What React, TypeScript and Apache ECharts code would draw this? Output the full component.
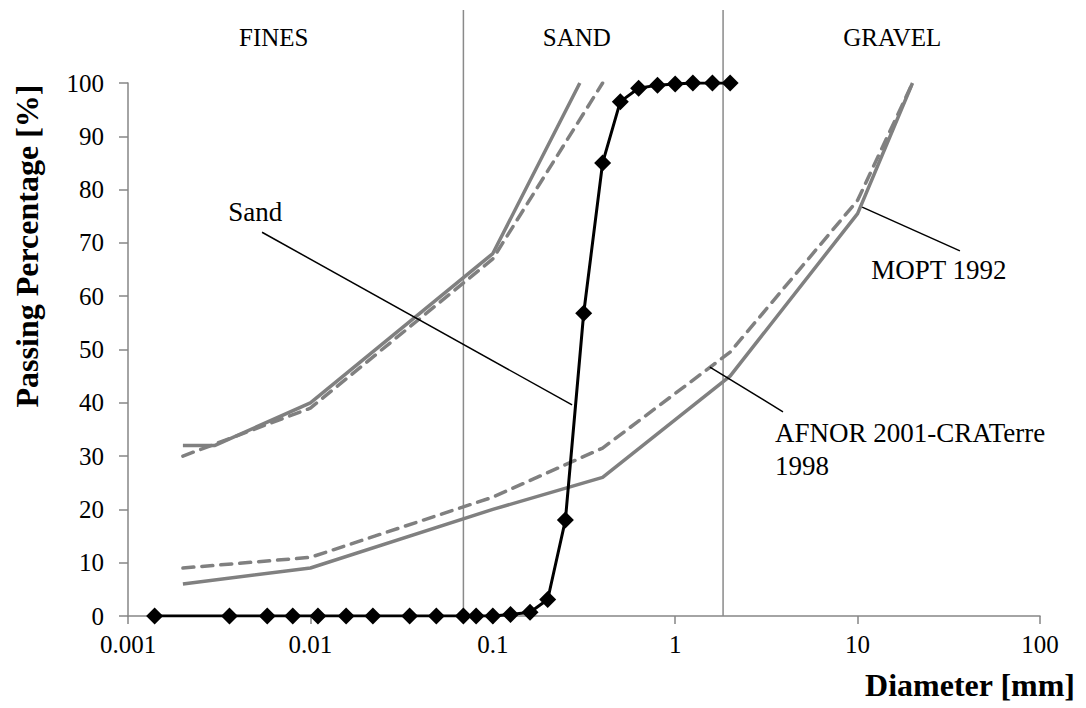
import React, { useEffect, useRef } from "react";
import * as echarts from "echarts";

// ---- data ----
const sandDiameter = [0.0014, 0.0036, 0.0058, 0.008, 0.011, 0.0157, 0.022, 0.035, 0.049, 0.069, 0.081, 0.1, 0.125, 0.16, 0.2, 0.25, 0.315, 0.4, 0.5, 0.63, 0.8, 1, 1.25, 1.6, 2];
const sandPassing = [0, 0, 0, 0, 0, 0, 0, 0, 0, 0, 0, 0, 0.3, 0.7, 3.1, 18, 56.8, 85, 96.5, 99, 99.6, 99.8, 100, 100, 100];

const moptUpperDiameter = [0.002, 0.003, 0.01, 0.1, 0.3];
const moptUpperPassing = [32, 32, 40, 68, 100];
const moptLowerDiameter = [0.002, 0.01, 0.1, 0.4, 2, 10, 20];
const moptLowerPassing = [6, 9, 20, 26, 45, 75.5, 100];

const afnorUpperDiameter = [0.002, 0.01, 0.1, 0.4];
const afnorUpperPassing = [30, 39, 67, 100];
const afnorLowerDiameter = [0.002, 0.01, 0.1, 0.4, 2, 10, 20];
const afnorLowerPassing = [9, 11, 22.3, 31.5, 49.5, 78, 100];

const yTicks = [0, 10, 20, 30, 40, 50, 60, 70, 80, 90, 100];
const xTicks = [0.001, 0.01, 0.1, 1, 10, 100];

// zone boundaries (mm) and zone label positions (mm)
const zoneBoundaries = [0.069, 1.83];
const zoneNames = ["FINES", "SAND", "GRAVEL"];
const zoneLabelDiameter = [0.0063, 0.289, 15.5];

// annotations: text, anchor [d, p], leader from [d,p] to [d,p]
const annotationTexts = ["Sand", "MOPT 1992", "AFNOR 2001-CRATerre", "1998"];
const annotationAnchors = [[0.00498, 75.8], [27.9, 64.9], [3.52, 34.3], [3.52, 28.1]];
const annotationAlign = ["center", "center", "left", "left"];
const leaderStarts = [[0.00543, 72], [10.6, 76.7], [1.55, 46.7]];
const leaderEnds = [[0.272, 39.6], [36.4, 68.5], [3.9, 38.3]];

const FONT = "Liberation Serif";
const GRAY = "#808080";

const zip = (a: number[], b: number[]) => a.map((v, i) => [v, b[i]]);

export default function App() {
  const ref = useRef<HTMLDivElement>(null);
  useEffect(() => {
    document.body.style.margin = "0";
    const chart = echarts.init(ref.current!, null, { renderer: "svg" });
    const grayLine = (name: string, data: number[][], dashed: boolean) => ({
      name,
      type: "line",
      data,
      symbol: "none",
      z: 2,
      lineStyle: {
        color: GRAY,
        width: 3.5,
        type: dashed ? [11, 8] : "solid",
        cap: dashed ? "round" : "butt",
      },
    });
    chart.setOption({
      animation: false,
      grid: { left: 128, right: 46, top: 83, bottom: 92 },
      xAxis: {
        type: "log",
        logBase: 10,
        min: xTicks[0],
        max: xTicks[xTicks.length - 1],
        axisLine: { lineStyle: { color: "#868686", width: 1.5 } },
        axisTick: { show: true, length: 8, lineStyle: { color: "#868686", width: 1.5 } },
        minorTick: { show: false },
        splitLine: { show: false },
        axisLabel: {
          color: "#000",
          fontFamily: FONT,
          fontSize: 25,
          margin: 16,
          formatter: (v: number) => String(Number(v.toPrecision(6))),
        },
      },
      yAxis: {
        type: "value",
        min: yTicks[0],
        max: yTicks[yTicks.length - 1],
        interval: 10,
        axisLine: { show: true, lineStyle: { color: "#868686", width: 1.5 } },
        axisTick: { show: true, length: 9, lineStyle: { color: "#868686", width: 1.5 } },
        splitLine: { show: false },
        axisLabel: { color: "#000", fontFamily: FONT, fontSize: 25, margin: 24 },
      },
      series: [
        grayLine("MOPT 1992 upper", zip(moptUpperDiameter, moptUpperPassing), false),
        grayLine("MOPT 1992 lower", zip(moptLowerDiameter, moptLowerPassing), false),
        grayLine("AFNOR upper", zip(afnorUpperDiameter, afnorUpperPassing), true),
        grayLine("AFNOR lower", zip(afnorLowerDiameter, afnorLowerPassing), true),
        {
          name: "Sand",
          type: "line",
          data: zip(sandDiameter, sandPassing),
          symbol: "diamond",
          symbolSize: 17,
          z: 5,
          itemStyle: { color: "#000" },
          lineStyle: { color: "#000", width: 3 },
        },
      ],
    });

    const px = (d: number, p: number) => chart.convertToPixel({ gridIndex: 0 }, [d, p]) as number[];
    const graphics: any[] = [];
    zoneBoundaries.forEach((d) => {
      const [x, yb] = px(d, 0);
      graphics.push({
        type: "line",
        shape: { x1: x, y1: 10, x2: x, y2: yb },
        style: { stroke: "#8a8a8a", lineWidth: 1.5 },
        z: 1,
      });
    });
    zoneNames.forEach((n, i) => {
      const [x] = px(zoneLabelDiameter[i], 0);
      graphics.push({
        type: "text",
        x,
        y: 37,
        style: { text: n, fontFamily: FONT, fontSize: 25, fill: "#000", align: "center", verticalAlign: "middle" },
      });
    });
    leaderStarts.forEach((s, i) => {
      const a = px(s[0], s[1]);
      const b = px(leaderEnds[i][0], leaderEnds[i][1]);
      graphics.push({
        type: "line",
        shape: { x1: a[0], y1: a[1], x2: b[0], y2: b[1] },
        style: { stroke: "#000", lineWidth: 1.5 },
        z: 10,
      });
    });
    annotationTexts.forEach((t, i) => {
      const [x, y] = px(annotationAnchors[i][0], annotationAnchors[i][1]);
      graphics.push({
        type: "text",
        x,
        y,
        style: { text: t, fontFamily: FONT, fontSize: 27, fill: "#000", align: annotationAlign[i], verticalAlign: "middle" },
        z: 10,
      });
    });
    graphics.push({
      type: "text",
      x: 27,
      y: 246,
      rotation: Math.PI / 2,
      style: { text: "Passing Percentage [%]", fontFamily: FONT, fontSize: 32, fontWeight: "bold", fill: "#000", align: "center", verticalAlign: "middle" },
    });
    graphics.push({
      type: "text",
      x: 1075,
      y: 685,
      style: { text: "Diameter [mm]", fontFamily: FONT, fontSize: 32, fontWeight: "bold", fill: "#000", align: "right", verticalAlign: "middle" },
    });
    chart.setOption({ graphic: graphics });
    return () => chart.dispose();
  }, []);
  return <div ref={ref} style={{ width: 1086, height: 708 }} />;
}
